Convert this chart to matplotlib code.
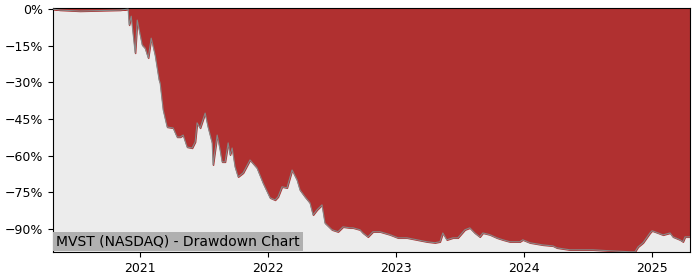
import numpy as np
import pandas as pd
import matplotlib
matplotlib.use('Agg')
from matplotlib import pyplot as plt
from matplotlib.ticker import FuncFormatter
import matplotlib.dates as mdates

# dates as decimal years, drawdown in percent
years = [2020.320, 2020.375, 2020.531, 2020.688, 2020.844, 2020.906, 2020.914, 2020.930,
         2020.961, 2020.977, 2021.016, 2021.039, 2021.063, 2021.086, 2021.117, 2021.148,
         2021.156, 2021.180, 2021.211, 2021.258, 2021.289, 2021.313, 2021.336, 2021.367,
         2021.406, 2021.430, 2021.445, 2021.469, 2021.508, 2021.531, 2021.563, 2021.570,
         2021.602, 2021.625, 2021.641, 2021.664, 2021.688, 2021.703, 2021.719, 2021.742,
         2021.766, 2021.805, 2021.859, 2021.914, 2021.961, 2022.016, 2022.055, 2022.078,
         2022.109, 2022.148, 2022.188, 2022.227, 2022.250, 2022.289, 2022.328, 2022.352,
         2022.383, 2022.422, 2022.445, 2022.500, 2022.547, 2022.586, 2022.641, 2022.664,
         2022.719, 2022.742, 2022.781, 2022.820, 2022.875, 2022.953, 2023.016, 2023.086,
         2023.164, 2023.242, 2023.305, 2023.344, 2023.367, 2023.398, 2023.445, 2023.484,
         2023.539, 2023.578, 2023.617, 2023.656, 2023.680, 2023.734, 2023.789, 2023.836,
         2023.891, 2023.969, 2023.992, 2024.047, 2024.148, 2024.227, 2024.258, 2024.359,
         2024.539, 2024.672, 2024.828, 2024.867, 2024.891, 2024.930, 2024.984, 2025.000,
         2025.047, 2025.086, 2025.141, 2025.164, 2025.219, 2025.242, 2025.258, 2025.297]
drawdown = [0.0, -0.4, -0.8, -0.6, -0.4, 0.0, -6.5, -2.9,
            -18.0, -4.5, -14.7, -16.0, -20.0, -11.9, -18.8, -29.0,
            -30.3, -41.3, -48.3, -48.7, -52.4, -52.4, -51.6, -56.5,
            -56.9, -54.4, -46.6, -48.7, -42.6, -48.3, -54.8, -63.8,
            -51.6, -57.7, -62.6, -62.6, -54.8, -59.7, -56.9, -64.6,
            -68.7, -67.1, -61.8, -65.1, -71.2, -77.3, -78.2, -76.9,
            -72.8, -73.2, -65.9, -70.0, -74.1, -76.9, -79.4, -84.3,
            -82.2, -80.2, -87.6, -90.4, -91.2, -89.2, -89.6, -89.6,
            -90.4, -91.7, -93.3, -91.2, -91.2, -92.4, -93.7, -93.7,
            -94.5, -95.3, -95.7, -95.3, -91.7, -94.5, -93.7, -93.7,
            -90.4, -89.6, -91.7, -93.3, -91.7, -92.4, -93.7, -94.5,
            -95.3, -95.3, -94.5, -95.7, -96.6, -97.0, -97.8, -98.6,
            -98.6, -99.0, -99.4, -99.4, -97.4, -95.7, -91.7, -90.8,
            -91.7, -92.5, -91.7, -93.3, -94.5, -95.3, -93.3, -93.3]


def to_date(yr):
    # decimal year -> timestamp
    y0 = int(yr)
    start = pd.Timestamp(year=y0, month=1, day=1)
    end = pd.Timestamp(year=y0 + 1, month=1, day=1)
    return start + (end - start) * (yr - y0)


x = [to_date(v) for v in years]
y = np.array(drawdown)

fig = plt.figure(figsize=(7, 2.8), dpi=100)
ax = fig.add_axes([0.0757, 0.1, 0.91, 0.871])
ax.set_facecolor('#ececec')
ax.fill_between(x, y, 0, color='#b03030', zorder=2)
ax.plot(x, y, color='#888888', lw=0.8, zorder=3)

ax.set_xlim(x[0], x[-1])
ax.set_ylim(-99.5, 0.4)
ax.set_yticks([0, -15, -30, -45, -60, -75, -90])
ax.yaxis.set_major_formatter(FuncFormatter(lambda v, p: f'{v:.0f}%'.replace('-', '\u2212')))
ax.xaxis.set_major_locator(mdates.YearLocator())
ax.xaxis.set_major_formatter(mdates.DateFormatter('%Y'))
ax.tick_params(labelsize=9)

ax.text(0.005, 0.015, 'MVST (NASDAQ) - Drawdown Chart', transform=ax.transAxes,
        fontsize=10, va='bottom', ha='left', zorder=5,
        bbox=dict(facecolor='#b0b0b0', edgecolor='none', pad=2))

fig.savefig('out.png')
